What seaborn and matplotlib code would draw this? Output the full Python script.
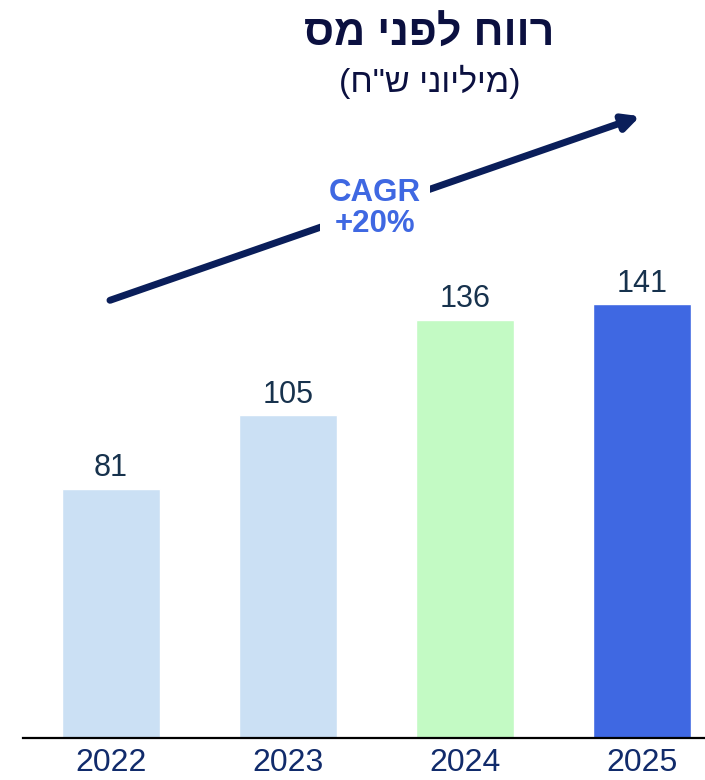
import pandas as pd
import matplotlib
matplotlib.use('Agg')
import matplotlib.pyplot as plt
import seaborn as sns

# Data
years = ['2022', '2023', '2024', '2025']
profit = [81, 105, 136, 141]
bar_colors = ['#CBE0F4', '#CBE0F4', '#C3FAC4', '#3F68E2']

# Hebrew strings (logical order), reversed for display since matplotlib has no bidi
title_he = 'רווח לפני מס'
subtitle_he = '(מיליוני ש"ח)'


def visual(s):
    mirror = {'(': ')', ')': '('}
    return ''.join(mirror.get(c, c) for c in reversed(s))


df = pd.DataFrame({'year': years, 'profit': profit})

sns.set_theme(style='white')
fonts = ['Liberation Sans', 'DejaVu Sans']
plt.rcParams['font.family'] = fonts

fig = plt.figure(figsize=(7.05, 7.8), dpi=100)
ax = fig.add_axes([0.032, 0.0538, 0.968, 0.9462])

sns.barplot(data=df, x='year', y='profit', hue='year', palette=bar_colors,
            width=0.555, legend=False, ax=ax, saturation=1)

for c in ax.containers:
    ax.bar_label(c, fontsize=22, color='#17324D', padding=4)

ax.set_xlim(-0.5, 3.356)
ax.set_ylim(0, 240)
ax.set_xlabel('')
ax.set_ylabel('')
ax.set_yticks([])
ax.tick_params(axis='x', length=0, pad=7.5, labelsize=23, labelcolor='#112B6B')
for side in ['top', 'left', 'right']:
    ax.spines[side].set_visible(False)
ax.spines['bottom'].set_color('black')
ax.spines['bottom'].set_linewidth(1.6)

# Title and subtitle
fig.text(0.609, 0.955, visual(title_he), ha='center', va='center',
         fontsize=31, fontweight='bold', color='#0B1040')
fig.text(0.610, 0.895, visual(subtitle_he), ha='center', va='center',
         fontsize=24.5, color='#0B1040')

# CAGR arrow
ax.annotate('', xy=(0.908, 0.851), xycoords='figure fraction',
            xytext=(0.156, 0.615), textcoords='figure fraction',
            arrowprops=dict(arrowstyle='-|>,head_length=0.8,head_width=0.4',
                            color='#0A1E5A', lw=5, shrinkA=0, shrinkB=0))
fig.text(0.532, 0.733, 'CAGR\n+20%', ha='center', va='center',
         fontsize=22.5, fontweight='bold', color='#3F68E2', linespacing=1.05,
         bbox=dict(boxstyle='square,pad=0.3', facecolor='white', edgecolor='none'))

fig.savefig('out.png', dpi=100)
